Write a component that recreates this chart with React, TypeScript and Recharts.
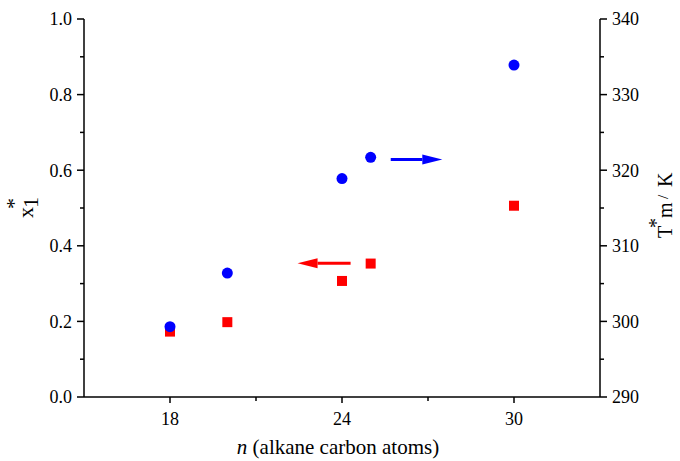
import { ReferenceLine, Scatter, ScatterChart, XAxis, YAxis } from "recharts";

const SERIF = '"Liberation Serif", "DejaVu Serif", serif';
const txt = { fontFamily: SERIF };

// alkane chain length and the two measured quantities
const carbonNumbers = [18, 20, 24, 25, 30];
const moleFraction = [0.173, 0.198, 0.307, 0.353, 0.506];
const meltingTemp = [299.3, 306.4, 318.9, 321.7, 333.9];

const xTicks = [18, 21, 24, 27, 30];
const xMajor = [18, 24, 30];
const leftTicks = [0, 0.1, 0.2, 0.3, 0.4, 0.5, 0.6, 0.7, 0.8, 0.9, 1.0];
const rightTicks = [290, 295, 300, 305, 310, 315, 320, 325, 330, 335, 340];

// arrows telling which axis each series belongs to
const leftArrow = { from: 24.3, to: 22.45, y: 0.354 };
const rightArrow = { from: 25.7, to: 27.5, y: 321.4 };

const fractionData = carbonNumbers.map((n, i) => ({ n, y: moleFraction[i] }));
const tempData = carbonNumbers.map((n, i) => ({ n, y: meltingTemp[i] }));

function BottomTick({ x, y, payload }: any) {
  const major = xMajor.includes(payload.value);
  return (
    <g>
      <line x1={x} x2={x} y1={y} y2={y + (major ? 6 : 4)} stroke="#000" strokeWidth={1.5} />
      {major && (
        <text x={x} y={y + 28} textAnchor="middle" fontSize={18} style={txt} fill="#000">
          {payload.value}
        </text>
      )}
    </g>
  );
}

function LeftTick({ x, y, payload }: any) {
  const major = Math.round(payload.value * 10) % 2 === 0;
  return (
    <g>
      <line x1={x - (major ? 7 : 4)} x2={x} y1={y} y2={y} stroke="#000" strokeWidth={1.5} />
      {major && (
        <text x={x - 12} y={y} dy="0.35em" textAnchor="end" fontSize={18} style={txt} fill="#000">
          {payload.value.toFixed(1)}
        </text>
      )}
    </g>
  );
}

function RightTick({ x, y, payload }: any) {
  const major = payload.value % 10 === 0;
  return (
    <g>
      <line x1={x} x2={x + (major ? 7 : 4)} y1={y} y2={y} stroke="#000" strokeWidth={1.5} />
      {major && (
        <text x={x + 12} y={y} dy="0.35em" textAnchor="start" fontSize={18} style={txt} fill="#000">
          {payload.value}
        </text>
      )}
    </g>
  );
}

function LeftTitle({ viewBox }: any) {
  const cx = viewBox.x + 33;
  const cy = viewBox.y + viewBox.height / 2;
  return (
    <g transform={`translate(${cx},${cy}) rotate(-90)`} fill="#000">
      <text x={-10} y={0} fontSize={22} style={txt}>x</text>
      <text x={-1} y={-12} fontSize={22} style={txt}>*</text>
      <text x={0} y={5} fontSize={22} style={txt}>1</text>
    </g>
  );
}

function RightTitle({ viewBox }: any) {
  const cx = viewBox.x + 72;
  const cy = viewBox.y + viewBox.height / 2;
  return (
    <g transform={`translate(${cx},${cy}) rotate(-90)`} fill="#000">
      <text x={-30} y={0} fontSize={20} style={txt}>T</text>
      <text x={-20} y={-9} fontSize={20} style={txt}>*</text>
      <text x={-10} y={0} fontSize={20} style={txt}>m</text>
      <text x={9} y={-4} fontSize={15} style={txt}>/</text>
      <text x={21} y={0} fontSize={20} style={txt}>K</text>
    </g>
  );
}

function Arrow({ x1, y1, x2, y2, color }: any) {
  const dir = x2 > x1 ? 1 : -1;
  const head = 20;
  const baseX = x2 - dir * head;
  return (
    <g>
      <line x1={x1} y1={y1} x2={baseX} y2={y2} stroke={color} strokeWidth={3} />
      <polygon points={`${x2},${y2} ${baseX},${y2 - 5} ${baseX},${y2 + 5}`} fill={color} />
    </g>
  );
}

export default function App() {
  return (
    <div style={{ position: "absolute", left: 0, top: 0, background: "#fff", fontFamily: SERIF }}>
      <ScatterChart width={680} height={461} margin={{ top: 19, right: 0, bottom: 0, left: 0 }}>
        <XAxis
          xAxisId="n"
          type="number"
          dataKey="n"
          domain={[15, 33]}
          ticks={xTicks}
          height={64}
          tickSize={0}
          tickMargin={0}
          tickLine={false}
          axisLine={{ stroke: "#000", strokeWidth: 1.5 }}
          tick={<BottomTick />}
          label={{
            value: "(alkane carbon atoms)",
            content: ({ viewBox }: any) => (
              <text x={viewBox.x + viewBox.width / 2 - 4} y={viewBox.y + 57} textAnchor="middle" fontSize={21} style={txt} fill="#000">
                <tspan fontStyle="italic">n</tspan> (alkane carbon atoms)
              </text>
            )
          }}
        />
        <XAxis
          xAxisId="top"
          orientation="top"
          type="number"
          domain={[15, 33]}
          height={0}
          tick={false}
          tickLine={false}
          axisLine={{ stroke: "#000", strokeWidth: 1.5 }}
        />
        <YAxis
          yAxisId="frac"
          type="number"
          dataKey="y"
          domain={[0, 1]}
          ticks={leftTicks}
          width={84}
          tickSize={0}
          tickMargin={0}
          tickLine={false}
          axisLine={{ stroke: "#000", strokeWidth: 1.5 }}
          tick={<LeftTick />}
          label={{ value: "x1*", content: (p: any) => <LeftTitle {...p} /> }}
        />
        <YAxis
          yAxisId="temp"
          orientation="right"
          type="number"
          dataKey="y"
          domain={[290, 340]}
          ticks={rightTicks}
          width={80}
          tickSize={0}
          tickMargin={0}
          tickLine={false}
          axisLine={{ stroke: "#000", strokeWidth: 1.5 }}
          tick={<RightTick />}
          label={{ value: "T*m / K", content: (p: any) => <RightTitle {...p} /> }}
        />
        <Scatter
          data={fractionData}
          xAxisId="n"
          yAxisId="frac"
          isAnimationActive={false}
          shape={(p: any) => <rect x={p.cx - 5} y={p.cy - 5} width={10} height={10} fill="#ff0000" />}
        />
        <Scatter
          data={tempData}
          xAxisId="n"
          yAxisId="temp"
          isAnimationActive={false}
          shape={(p: any) => <circle cx={p.cx} cy={p.cy} r={5.5} fill="#0000ff" />}
        />
        <ReferenceLine
          xAxisId="n"
          yAxisId="frac"
          segment={[{ x: leftArrow.from, y: leftArrow.y }, { x: leftArrow.to, y: leftArrow.y }]}
          shape={(p: any) => <Arrow {...p} color="#ff0000" />}
        />
        <ReferenceLine
          xAxisId="n"
          yAxisId="temp"
          segment={[{ x: rightArrow.from, y: rightArrow.y }, { x: rightArrow.to, y: rightArrow.y }]}
          shape={(p: any) => <Arrow {...p} color="#0000ff" />}
        />
      </ScatterChart>
    </div>
  );
}
